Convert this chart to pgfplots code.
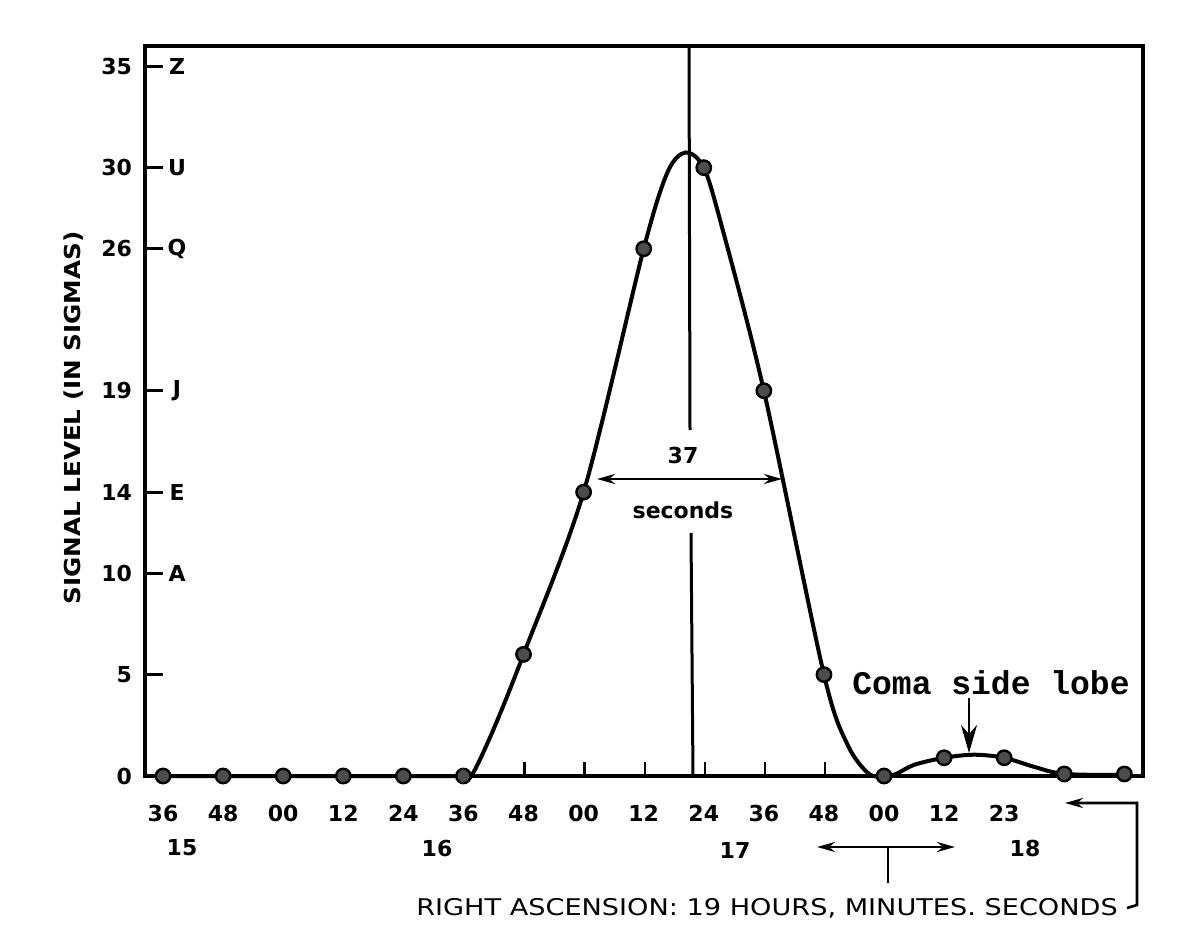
\documentclass[border=0pt]{standalone}
\usepackage{pgfplots}
\pgfplotsset{compat=1.18}
\usepackage{fontspec}
\setmainfont{DejaVu Sans}
\newfontfamily\monofont{Liberation Mono}
\usetikzlibrary{arrows.meta}
\newcommand{\tl}{\fontsize{11}{13}\selectfont\bfseries}
\begin{document}
\begin{tikzpicture}
\path[use as bounding box] (0,0) rectangle (600pt,472pt);
\begin{axis}[
  at={(72.5pt,84pt)}, anchor=south west,
  scale only axis, width=499pt, height=365pt,
  xmin=-0.3, xmax=16.31, ymin=0, ymax=36,
  axis line style={line width=1.6pt},
  clip=false,
  xtick={0,...,14},
  xticklabels={36,48,00,12,24,36,48,00,12,24,36,48,00,12,23},
  x tick label style={font=\tl, yshift=-11pt},
  xtick style={draw=none},
  ytick={0,5,10,14,19,26,30,35},
  yticklabels={0,5,10,14,19,26,30,35},
  y tick label style={font=\tl, xshift=-3pt},
  ytick pos=left, tick align=inside,
  major tick length=9pt,
  ytick style={black, line width=1.4pt},
]
% smooth curve
\addplot[line width=2pt, smooth, tension=0.5] coordinates {
 (0,0) (1,0) (2,0) (3,0) (4,0) (5,0) (5.15,0.1) (5.5,2.3) (6,6)
 (7,14) (8,26) (8.4,29.8) (8.7,30.75) (9,30) (9.3,27.1)
 (10,19) (11,5) (11.4,1.5) (11.75,0.1) (12,0) (12.2,0.1)
 (12.5,0.55) (13,0.9) (13.5,1.05) (14,0.9) (14.5,0.45) (15,0.1) (16,0.05)
};
% measured points (12 s apart)
\addplot[only marks, mark=*, mark size=3.6pt,
  mark options={fill=black!70, draw=black, line width=1.2pt}] coordinates {
 (0,0) (1,0) (2,0) (3,0) (4,0) (5,0) (6,6) (7,14) (8,26) (9,30) (10,19)
 (11,5) (12,0) (13,0.9) (14,0.9) (15,0.1) (16,0.1)
};
\node[font=\tl] at (axis cs:0.233,35) {Z};
\node[font=\tl] at (axis cs:0.233,30) {U};
\node[font=\tl] at (axis cs:0.233,26) {Q};
\node[font=\tl] at (axis cs:0.233,19) {J};
\node[font=\tl] at (axis cs:0.233,14) {E};
\node[font=\tl] at (axis cs:0.233,10) {A};
\end{axis}
\begin{scope}[x=0.5pt,y=-0.5pt,shift={(0pt,472pt)}]
 % small ticks on the time axis
 \draw[line width=1.3pt] (524.6,776) -- (524.6,762);
 \draw[line width=1.3pt] (584.7,776) -- (584.7,762);
 \draw[line width=1.3pt] (644.8,776) -- (644.8,762);
 \draw[line width=1.3pt] (704.9,776) -- (704.9,762);
 \draw[line width=1.3pt] (765.0,776) -- (765.0,762);
 \draw[line width=1.3pt] (825.1,776) -- (825.1,762);
 % centre line
 \draw[line width=1.5pt] (689,45) -- (690,430);
 \draw[line width=1.5pt] (691,533) -- (693,776);
 \node[font=\tl] at (683,455) {37};
 \node[font=\tl] at (683,510) {seconds};
 \draw[line width=1.3pt, {Stealth[length=9pt,width=5pt]}-{Stealth[length=9pt,width=5pt]}] (597,479) -- (782,479);
 % coma side lobe
 \node[font=\monofont\fontsize{16.5}{18}\selectfont\bfseries] at (991,683) {Coma side lobe};
 \draw[line width=1.3pt, -{Stealth[length=14pt,width=8pt]}] (969,698) -- (969,753);
 % hour-minute row
 \node[font=\tl] at (182,848) {15};
 \node[font=\tl] at (437,848) {16};
 \node[font=\tl] at (735,850) {17};
 \node[font=\tl] at (1025,848) {18};
 \draw[line width=1.3pt, {Stealth[length=9pt,width=5pt]}-{Stealth[length=9pt,width=5pt]}] (817,847) -- (955,847);
 \draw[line width=1.3pt] (888,847) -- (888,883);
 \draw[line width=1.3pt, {Stealth[length=9pt,width=5pt]}-] (1065,803) -- (1137,803) -- (1137,905) -- (1127,908);
 \node at (767,908) {\scalebox{1.18}[1]{\fontsize{11.5}{14}\selectfont RIGHT ASCENSION: 19 HOURS, MINUTES. SECONDS}};
 \node[rotate=90] at (74,418) {\scalebox{1.12}[1]{\fontsize{11}{13}\selectfont\bfseries SIGNAL LEVEL (IN SIGMAS)}};
\end{scope}
\end{tikzpicture}
\end{document}
